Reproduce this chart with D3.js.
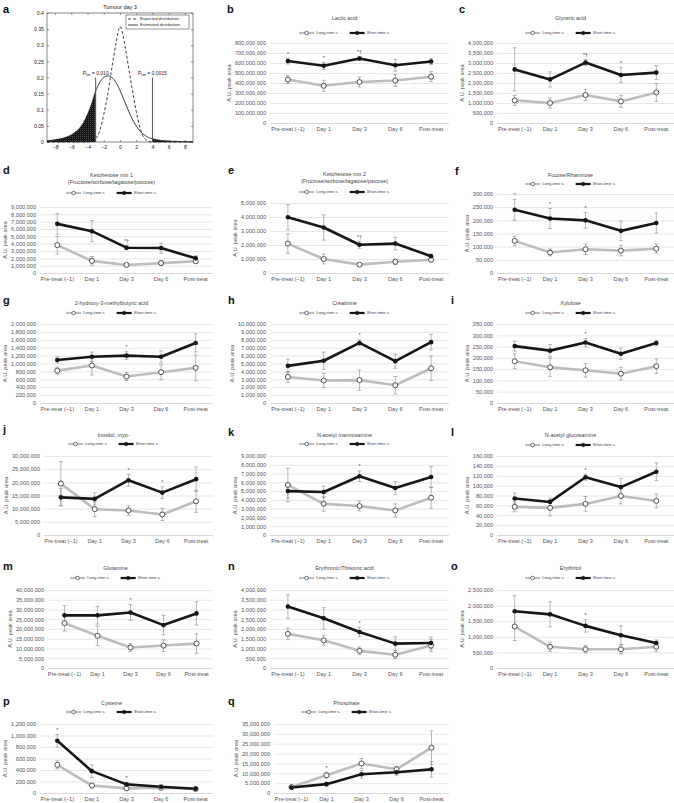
<!DOCTYPE html>
<html><head><meta charset="utf-8">
<script src="https://cdn.jsdelivr.net/npm/d3@7"></script>
<style>body{margin:0;background:#fff}svg{display:block;font-family:"Liberation Sans",Arial,sans-serif}</style>
</head><body>
<script>
// ---------- Panel a data ----------
const distX = [-9,-8.5,-8,-7.5,-7,-6.5,-6,-5.5,-5,-4.5,-4,-3.5,-3,-2.5,-2,-1.5,-1,-0.5,0,0.5,1,1.5,2,2.5,3,3.5,4,4.5,5,5.5,6,6.5,7,7.5,8,8.5,9];
const expectedY = [0,0,0,0,0,0,0,0,0,0,0,0.002,0.01,0.035,0.085,0.15,0.23,0.305,0.358,0.315,0.24,0.165,0.095,0.04,0.012,0.003,0,0,0,0,0,0,0,0,0,0,0];
const estimatedY = [0.004,0.005,0.007,0.009,0.012,0.016,0.022,0.031,0.042,0.06,0.085,0.118,0.158,0.185,0.2,0.205,0.2,0.185,0.16,0.13,0.1,0.072,0.05,0.033,0.022,0.014,0.01,0.007,0.005,0.004,0.003,0.002,0.002,0.001,0.001,0.001,0.0005];
const distXTicks = [-8,-6,-4,-2,0,2,4,6,8];
const distYTicks = [0,0.05,0.1,0.15,0.2,0.25,0.3,0.35,0.4];

// ---------- Panels b-q data ----------
const categories = ["Pre-treat (\u22121)", "Day 1", "Day 3", "Day 6", "Post-treat"];

const lacticLong = [435e6,372e6,410e6,425e6,463e6], lacticLongErr = [40e6,55e6,50e6,60e6,50e6];
const lacticShort = [620e6,572e6,645e6,578e6,615e6], lacticShortErr = [30e6,35e6,20e6,60e6,30e6];
const lacticMarks = ["*","*","*\u2020","",""];

const glycericLong = [1.13e6,1.0e6,1.4e6,1.08e6,1.53e6], glycericLongErr = [0.25e6,0.25e6,0.28e6,0.3e6,0.45e6];
const glycericShort = [2.68e6,2.18e6,3.02e6,2.4e6,2.52e6], glycericShortErr = [1.08e6,0.38e6,0.15e6,0.38e6,0.35e6];
const glycericMarks = ["","","*\u2020","*",""];

const keto1Long = [3.8e6,1.65e6,1.1e6,1.35e6,1.6e6], keto1LongErr = [1.2e6,0.6e6,0.2e6,0.35e6,0.2e6];
const keto1Short = [6.7e6,5.7e6,3.45e6,3.4e6,2.0e6], keto1ShortErr = [1.4e6,1.45e6,0.3e6,0.7e6,0.35e6];
const keto1Marks = ["","","*\u2020","",""];

const keto2Long = [2.1e6,1.0e6,0.6e6,0.8e6,0.95e6], keto2LongErr = [0.7e6,0.35e6,0.08e6,0.2e6,0.15e6];
const keto2Short = [3.98e6,3.25e6,2.02e6,2.1e6,1.2e6], keto2ShortErr = [0.9e6,0.9e6,0.25e6,0.45e6,0.2e6];
const keto2Marks = ["","","*\u2020","",""];

const fucoseLong = [122e3,78e3,90e3,85e3,92e3], fucoseLongErr = [18e3,13e3,20e3,20e3,17e3];
const fucoseShort = [240e3,207e3,200e3,160e3,190e3], fucoseShortErr = [40e3,38e3,30e3,37e3,38e3];
const fucoseMarks = ["*","*","*","",""];

const hmbaLong = [820e3,950e3,670e3,780e3,890e3], hmbaLongErr = [90e3,240e3,100e3,190e3,330e3];
const hmbaShort = [1090e3,1170e3,1200e3,1170e3,1520e3], hmbaShortErr = [80e3,120e3,100e3,150e3,230e3];
const hmbaMarks = ["","","*","",""];

const creatLong = [3.3e6,2.85e6,2.9e6,2.25e6,4.4e6], creatLongErr = [0.7e6,0.9e6,1.3e6,1.1e6,1.55e6];
const creatShort = [4.7e6,5.35e6,7.6e6,5.3e6,7.7e6], creatShortErr = [0.85e6,1.1e6,0.4e6,0.9e6,1.0e6];
const creatMarks = ["","","*","",""];

const xylLong = [185e3,158e3,145e3,130e3,163e3], xylLongErr = [33e3,40e3,30e3,28e3,32e3];
const xylShort = [252e3,232e3,268e3,218e3,266e3], xylShortErr = [22e3,27e3,18e3,25e3,12e3];
const xylMarks = ["","","*","",""];

const inosLong = [19.5e6,9.8e6,9.3e6,7.8e6,12.8e6], inosLongErr = [8.3e6,2.8e6,1.8e6,2.3e6,4.2e6];
const inosShort = [14.3e6,13.7e6,20.8e6,16.1e6,21.2e6], inosShortErr = [3.3e6,2.3e6,2.3e6,2.2e6,4.6e6];
const inosMarks = ["","","*","*",""];

const mannoLong = [5.7e6,3.55e6,3.3e6,2.8e6,4.25e6], mannoLongErr = [1.9e6,0.85e6,0.55e6,0.75e6,1.2e6];
const mannoShort = [5.0e6,4.9e6,6.7e6,5.35e6,6.6e6], mannoShortErr = [0.8e6,0.65e6,0.6e6,0.75e6,1.2e6];
const mannoMarks = ["","","*","",""];

const glucoLong = [57e3,55e3,63e3,79e3,69e3], glucoLongErr = [10e3,16e3,15e3,16e3,14e3];
const glucoShort = [74e3,67e3,117e3,97e3,128e3], glucoShortErr = [11e3,8e3,6e3,18e3,18e3];
const glucoMarks = ["","","*","",""];

const glutLong = [23e6,16.5e6,10.5e6,11.5e6,12.5e6], glutLongErr = [4e6,5e6,2e6,3e6,5e6];
const glutShort = [27e6,27e6,28.5e6,22e6,28e6], glutShortErr = [5e6,4.5e6,4e6,5e6,6e6];
const glutMarks = ["","","*","",""];

const eryLong = [1.75e6,1.42e6,0.88e6,0.68e6,1.15e6], eryLongErr = [0.3e6,0.25e6,0.2e6,0.2e6,0.3e6];
const eryShort = [3.15e6,2.55e6,1.85e6,1.25e6,1.28e6], eryShortErr = [0.6e6,0.55e6,0.25e6,0.35e6,0.3e6];
const eryMarks = ["","","*","",""];

const erytLong = [1.33e6,0.68e6,0.6e6,0.6e6,0.68e6], erytLongErr = [0.45e6,0.15e6,0.12e6,0.15e6,0.15e6];
const erytShort = [1.82e6,1.72e6,1.35e6,1.05e6,0.8e6], erytShortErr = [0.5e6,0.4e6,0.2e6,0.3e6,0.1e6];
const erytMarks = ["","","*","",""];

const cysLong = [490e3,130e3,80e3,90e3,70e3], cysLongErr = [70e3,40e3,20e3,20e3,10e3];
const cysShort = [910e3,380e3,150e3,110e3,75e3], cysShortErr = [110e3,110e3,30e3,30e3,10e3];
const cysMarks = ["*","","*","",""];

const phosLong = [3e6,9e6,15e6,12e6,23e6], phosLongErr = [0.5e6,1.5e6,2.5e6,1.5e6,8.5e6];
const phosShort = [2.8e6,4.5e6,9.5e6,10.5e6,12e6], phosShortErr = [0.5e6,1e6,2e6,1.5e6,4e6];
const phosMarks = ["","*","","",""];

const yMaxes = {b:800e6,c:4e6,d:9e6,e:5e6,f:300e3,g:2e6,h:10e6,i:350e3,j:30e6,k:9e6,l:160e3,m:40e6,n:4e6,o:2.5e6,p:1.2e6,q:35e6};
const ySteps = {b:100e6,c:500e3,d:1e6,e:1e6,f:50e3,g:200e3,h:1e6,i:50e3,j:5e6,k:1e6,l:20e3,m:5e6,n:500e3,o:500e3,p:200e3,q:5e6};

const FONT = '"Liberation Sans",Arial,sans-serif';
const svg = d3.select("body").append("svg").attr("width",674).attr("height",803);

// ---------- Panel a ----------
(function(){
  const x0=47,x1=193,y0=13,y1=142;
  const ax = d3.scaleLinear().domain([-9,9]).range([x0,x1]);
  const ay = d3.scaleLinear().domain([0,0.4]).range([y1,y0]);
  const defs = svg.append("defs");
  const pat = defs.append("pattern").attr("id","hatch").attr("patternUnits","userSpaceOnUse").attr("width",2).attr("height",2);
  pat.append("rect").attr("width",2).attr("height",2).attr("fill","#141414");
  pat.append("rect").attr("width",1).attr("height",1).attr("fill","#4a4a4a");
  const g = svg.append("g");
  const pts = distX.map((x,i)=>({x, e:expectedY[i], s:estimatedY[i]}));
  const area = d3.area().x(d=>ax(d.x)).y0(ay(0)).y1(d=>ay(d.s)).curve(d3.curveMonotoneX);
  g.append("path").datum(pts.filter(d=>d.x<=-3)).attr("d",area).attr("fill","url(#hatch)");
  g.append("path").datum(pts.filter(d=>d.x>=4)).attr("d",area).attr("fill","url(#hatch)");
  const lineE = d3.line().x(d=>ax(d.x)).y(d=>ay(d.e)).curve(d3.curveMonotoneX);
  const lineS = d3.line().x(d=>ax(d.x)).y(d=>ay(d.s)).curve(d3.curveMonotoneX);
  g.append("path").datum(pts).attr("d",lineE).attr("fill","none").attr("stroke","#111").attr("stroke-width",0.8).attr("stroke-dasharray","3,2");
  g.append("path").datum(pts).attr("d",lineS).attr("fill","none").attr("stroke","#111").attr("stroke-width",0.8);
  [-3,4].forEach(v=>{
    g.append("line").attr("x1",ax(v)).attr("x2",ax(v)).attr("y1",ay(0)).attr("y2",ay(0.2)).attr("stroke","#555").attr("stroke-width",1);
  });
  const labs = [{v:-3,t:" = 0.010"},{v:4,t:" = 0.0015"}];
  labs.forEach(l=>{
    const t = g.append("text").attr("x",ax(l.v)).attr("y",ay(0.2)-3).attr("text-anchor","middle").attr("font-size",5).attr("fill","#222");
    t.append("tspan").text("P");
    t.append("tspan").attr("font-size",3.5).attr("dy",1).text("lim");
    t.append("tspan").attr("dy",-1).text(l.t);
  });
  const xa = g.append("g").attr("transform",`translate(0,${y1})`).call(d3.axisBottom(ax).tickValues(distXTicks).tickSize(-2).tickPadding(3));
  const ya = g.append("g").attr("transform",`translate(${x0},0)`).call(d3.axisLeft(ay).tickValues(distYTicks).tickSize(-2).tickPadding(3).tickFormat(d=>String(+d.toFixed(2))));
  const xt = g.append("g").attr("transform",`translate(0,${y0})`).call(d3.axisTop(ax).tickValues(distXTicks).tickSize(-2).tickFormat(""));
  const yr = g.append("g").attr("transform",`translate(${x1},0)`).call(d3.axisRight(ay).tickValues(distYTicks).tickSize(-2).tickFormat(""));
  [xa,ya,xt,yr].forEach(a=>{a.select(".domain").remove(); a.selectAll("line").attr("stroke","#333").attr("stroke-width",0.5); a.selectAll("text").attr("font-size",5.2).attr("fill","#222").attr("font-family",FONT);});
  g.append("rect").attr("x",x0).attr("y",y0).attr("width",x1-x0).attr("height",y1-y0).attr("fill","none").attr("stroke","#333").attr("stroke-width",0.6);
  g.append("text").attr("x",(x0+x1)/2).attr("y",9).attr("text-anchor","middle").attr("font-size",5.5).attr("fill","#222").text("Tumour day 3");
  // legend
  g.append("rect").attr("x",126).attr("y",15).attr("width",63).attr("height",14).attr("fill","#fff").attr("stroke","#333").attr("stroke-width",0.5);
  g.append("line").attr("x1",128).attr("x2",138).attr("y1",19).attr("y2",19).attr("stroke","#111").attr("stroke-width",0.8).attr("stroke-dasharray","3,2");
  g.append("line").attr("x1",128).attr("x2",138).attr("y1",25).attr("y2",25).attr("stroke","#111").attr("stroke-width",0.8);
  g.append("text").attr("x",140).attr("y",19).attr("dy","0.35em").attr("font-size",4.2).attr("fill","#222").text("Expected distribution");
  g.append("text").attr("x",140).attr("y",25).attr("dy","0.35em").attr("font-size",4.2).attr("fill","#222").text("Estimated distribution");
  svg.append("text").attr("x",3).attr("y",13).attr("font-size",11).attr("font-weight","bold").text("a");
})();

// ---------- Panels b-q ----------
const panels = [
  {id:"b",title:["Lactic acid"],L:lacticLong,LE:lacticLongErr,S:lacticShort,SE:lacticShortErr,M:lacticMarks,x0:270,x1:449,titleY:18,legY:33,yTop:43,yBot:123,lx:227,ly:13},
  {id:"c",title:["Glyceric acid"],L:glycericLong,LE:glycericLongErr,S:glycericShort,SE:glycericShortErr,M:glycericMarks,x0:497,x1:674,titleY:18,legY:33,yTop:43,yBot:123,lx:459,ly:13},
  {id:"d",title:["Ketohexose mix 1","(Fructose/sorbose/tagatose/psicose)"],L:keto1Long,LE:keto1LongErr,S:keto1Short,SE:keto1ShortErr,M:keto1Marks,x0:40,x1:213,titleY:175,legY:193,yTop:207,yBot:273,lx:3,ly:174},
  {id:"e",title:["Ketohexose mix 2","(Fructose/sorbose/tagatose/psicose)"],L:keto2Long,LE:keto2LongErr,S:keto2Short,SE:keto2ShortErr,M:keto2Marks,x0:270,x1:449,titleY:174,legY:192,yTop:203,yBot:273,lx:228,ly:174},
  {id:"f",title:["Fucose/Rhamnose"],L:fucoseLong,LE:fucoseLongErr,S:fucoseShort,SE:fucoseShortErr,M:fucoseMarks,x0:497,x1:674,titleY:175,legY:184,yTop:194,yBot:273,lx:455,ly:175},
  {id:"g",title:["2-hydroxy-3-methylbutyric acid"],L:hmbaLong,LE:hmbaLongErr,S:hmbaShort,SE:hmbaShortErr,M:hmbaMarks,x0:40,x1:213,titleY:303,legY:313,yTop:324,yBot:403,lx:3,ly:304},
  {id:"h",title:["Creatinine"],L:creatLong,LE:creatLongErr,S:creatShort,SE:creatShortErr,M:creatMarks,x0:270,x1:449,titleY:303,legY:313,yTop:324,yBot:403,lx:228,ly:304},
  {id:"i",title:["Xylulose"],L:xylLong,LE:xylLongErr,S:xylShort,SE:xylShortErr,M:xylMarks,x0:497,x1:674,titleY:303,legY:313,yTop:324,yBot:403,lx:451,ly:304},
  {id:"j",title:["Inositol, myo-"],L:inosLong,LE:inosLongErr,S:inosShort,SE:inosShortErr,M:inosMarks,x0:44,x1:213,titleY:435,legY:444,yTop:456,yBot:535,lx:3,ly:433},
  {id:"k",title:["N-acetyl mannosamine"],L:mannoLong,LE:mannoLongErr,S:mannoShort,SE:mannoShortErr,M:mannoMarks,x0:270,x1:449,titleY:435,legY:444,yTop:456,yBot:535,lx:228,ly:436},
  {id:"l",title:["N-acetyl glucosamine"],L:glucoLong,LE:glucoLongErr,S:glucoShort,SE:glucoShortErr,M:glucoMarks,x0:497,x1:674,titleY:435,legY:445,yTop:456,yBot:535,lx:451,ly:436},
  {id:"m",title:["Glutamine"],L:glutLong,LE:glutLongErr,S:glutShort,SE:glutShortErr,M:glutMarks,x0:48,x1:213,titleY:568,legY:578,yTop:590,yBot:668,lx:3,ly:570},
  {id:"n",title:["Erythronic/Threonic acid"],L:eryLong,LE:eryLongErr,S:eryShort,SE:eryShortErr,M:eryMarks,x0:270,x1:449,titleY:568,legY:578,yTop:590,yBot:668,lx:228,ly:570},
  {id:"o",title:["Erythritol"],L:erytLong,LE:erytLongErr,S:erytShort,SE:erytShortErr,M:erytMarks,x0:497,x1:674,titleY:568,legY:578,yTop:590,yBot:668,lx:451,ly:570},
  {id:"p",title:["Cysteine"],L:cysLong,LE:cysLongErr,S:cysShort,SE:cysShortErr,M:cysMarks,x0:40,x1:213,titleY:703,legY:712,yTop:724,yBot:793,lx:3,ly:705},
  {id:"q",title:["Phosphate"],L:phosLong,LE:phosLongErr,S:phosShort,SE:phosShortErr,M:phosMarks,x0:274,x1:449,titleY:703,legY:712,yTop:724,yBot:793,lx:228,ly:705}
];

const LONG_C = "#bdbdbd", SHORT_C = "#161616", ERR_C = "#8a8a8a";

function drawPanel(p){
  const g = svg.append("g");
  const yMax = yMaxes[p.id], yStep = ySteps[p.id];
  const ticks = d3.range(0, yMax + yStep/2, yStep);
  const x = d3.scaleBand().domain(categories).range([p.x0,p.x1]);
  const cx = i => x(categories[i]) + x.bandwidth()/2;
  const y = d3.scaleLinear().domain([0,yMax]).range([p.yBot,p.yTop]);
  const ya = g.append("g").attr("transform",`translate(${p.x0},0)`)
    .call(d3.axisLeft(y).tickValues(ticks).tickSize(-(p.x1-p.x0)).tickPadding(4).tickFormat(d3.format(",")));
  ya.select(".domain").remove();
  ya.selectAll("line").attr("stroke",d=>d===0?"#c8c8c8":"#dcdcdc").attr("stroke-width",0.7);
  ya.selectAll("text").attr("font-size",5.6).attr("fill","#555").attr("font-family",FONT);
  let maxW = 0; ya.selectAll("text").each(function(){ maxW = Math.max(maxW, this.getBBox().width); });
  const xa = g.append("g").attr("transform",`translate(0,${p.yBot})`).call(d3.axisBottom(x).tickSize(0).tickPadding(4));
  xa.select(".domain").remove();
  xa.selectAll("text").attr("font-size",5.6).attr("fill","#555").attr("font-family",FONT);
  // y label
  const ylx = Math.max(p.x0 - 4 - maxW - 4, 6);
  g.append("text").attr("transform",`translate(${ylx},${(p.yTop+p.yBot)/2}) rotate(-90)`).attr("text-anchor","middle")
    .attr("font-size",5.6).attr("fill","#555").text("A.U. peak area");
  // title
  const tcx = (p.x0+p.x1)/2 - 15;
  p.title.forEach((t,i)=>{
    g.append("text").attr("x",tcx).attr("y",p.titleY + i*7).attr("dy","0.35em").attr("text-anchor","middle")
      .attr("font-size",5.4).attr("fill","#444").text(t);
  });
  // legend
  const lg = g.append("g");
  const item = (xoff, color, fillM, label) => {
    const it = lg.append("g").attr("transform",`translate(${xoff},0)`);
    it.append("line").attr("x1",0).attr("x2",15).attr("y1",0).attr("y2",0).attr("stroke",color).attr("stroke-width",2.2);
    it.append("circle").attr("cx",7.5).attr("cy",0).attr("r",1.8).attr("fill",fillM).attr("stroke","#222").attr("stroke-width",0.6);
    const tx = it.append("text").attr("x",17).attr("y",0).attr("dy","0.35em").attr("font-size",4.1).attr("fill","#444").text(label);
    return 17 + tx.node().getBBox().width;
  };
  const w1 = item(0, LONG_C, "#fff", "Long-time s.");
  const w2 = item(w1+11, SHORT_C, SHORT_C, "Short-time s.");
  const lw = w1 + 11 + w2;
  lg.attr("transform",`translate(${tcx - lw/2},${p.legY})`);
  // lines
  const line = d3.line().x((d,i)=>cx(i)).y(d=>y(d));
  g.append("path").datum(p.L).attr("d",line).attr("fill","none").attr("stroke",LONG_C).attr("stroke-width",2.6).attr("stroke-linejoin","round");
  g.append("path").datum(p.S).attr("d",line).attr("fill","none").attr("stroke",SHORT_C).attr("stroke-width",2.6).attr("stroke-linejoin","round");
  // error bars
  const eb = (vals, errs) => vals.forEach((v,i)=>{
    const xx = cx(i), a = y(v-errs[i]), b = y(v+errs[i]);
    g.append("line").attr("x1",xx).attr("x2",xx).attr("y1",a).attr("y2",b).attr("stroke",ERR_C).attr("stroke-width",0.6);
    [a,b].forEach(yy=>g.append("line").attr("x1",xx-2).attr("x2",xx+2).attr("y1",yy).attr("y2",yy).attr("stroke",ERR_C).attr("stroke-width",0.6));
  });
  eb(p.L,p.LE); eb(p.S,p.SE);
  // markers
  g.selectAll(".ml").data(p.L).join("circle").attr("cx",(d,i)=>cx(i)).attr("cy",d=>y(d)).attr("r",2.5).attr("fill","#fff").attr("stroke","#2a2a2a").attr("stroke-width",0.8);
  g.selectAll(".ms").data(p.S).join("circle").attr("cx",(d,i)=>cx(i)).attr("cy",d=>y(d)).attr("r",2.3).attr("fill",SHORT_C);
  // significance marks
  p.M.forEach((m,i)=>{
    if(!m) return;
    const top = Math.max(p.L[i]+p.LE[i], p.S[i]+p.SE[i]);
    g.append("text").attr("x",cx(i)).attr("y",y(top)-2.5).attr("text-anchor","middle").attr("font-size",5.2).attr("fill","#444").text(m);
  });
  // panel letter
  svg.append("text").attr("x",p.lx).attr("y",p.ly).attr("font-size",11).attr("font-weight","bold").attr("fill","#111").text(p.id);
}
panels.forEach(drawPanel);
</script>
</body></html>
